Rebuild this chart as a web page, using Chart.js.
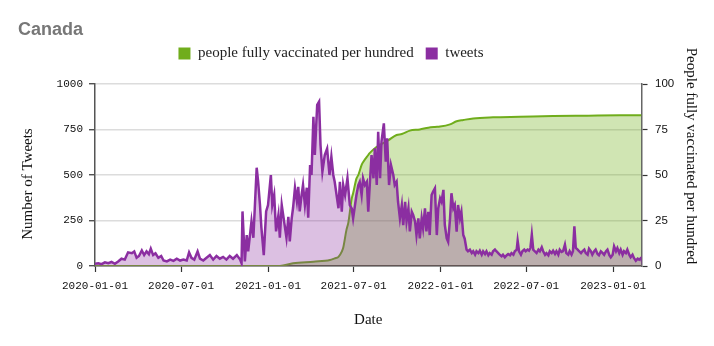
<!DOCTYPE html>
<html>
<head>
<meta charset="utf-8">
<script src="https://cdn.jsdelivr.net/npm/chart.js@4.4.1/dist/chart.umd.min.js"></script>
<style>
html,body{margin:0;padding:0;background:#fff;}
#wrap{width:714px;height:346px;position:relative;}
</style>
</head>
<body>
<div id="wrap"><canvas id="c" width="714" height="346"></canvas></div>
<script>
// ---- data (x values are days since 2020-01-01) ----
const startDate = '2020-01-01';
const endDay = 1156;
const tickDates = ['2020-01-01','2020-07-01','2021-01-01','2021-07-01','2022-01-01','2022-07-01','2023-01-01'];

const tweetDays = [
  0,7,14,21,28,35,42,49,56,63,70,78,83,88,93,99,104,109,114,118,123,128,134,140,145,152,159,166,173,180,
  187,194,199,204,210,217,222,229,236,243,250,257,264,271,278,285,292,300,307,310,
  312,317,321,324,331,335,338,342,345,349,352,357,362,366,372,375,379,383,388,391,395,400,405,409,412,416,
  419,423,427,430,433,437,440,444,448,451,455,458,462,465,470,474,477,481,486,491,496,500,504,
  507,511,515,518,522,525,529,534,539,543,546,550,553,557,560,564,567,571,575,578,582,585,589,592,596,599,
  603,606,611,615,618,622,626,631,634,638,641,645,649,652,656,659,663,666,670,673,677,680,684,687,691,694,
  698,701,705,708,712,715,719,
  723,726,730,733,737,740,744,747,751,754,758,761,765,768,772,775,779,
  782,786,789,793,797,800,804,807,811,814,818,821,825,828,832,835,839,842,846,849,853,856,860,863,867,871,
  874,878,881,885,888,892,894,897,901,904,908,911,915,918,921,924,927,930,934,938,941,945,948,952,955,959,
  962,966,969,973,976,980,983,987,990,994,997,1001,1004,1008,1011,1014,1017,1021,1024,1028,1031,1035,1038,
  1042,1045,1049,1052,1056,1059,1063,1066,1070,1074,1077,1081,1084,1088,1091,1095,1098,1102,1105,1109,1112,
  1116,1119,1123,1126,1130,1133,1137,1140,1144,1148,1151,1155,1156
];
const tweetCounts = [
  12,15,10,20,15,22,12,25,40,35,75,70,80,45,55,85,60,80,65,95,60,70,45,55,30,25,35,28,40,30,
  35,30,75,45,35,80,40,30,45,60,35,55,40,50,35,55,40,60,35,15,
  300,25,170,80,245,155,320,540,465,335,210,60,300,335,500,335,390,190,280,155,335,245,155,270,135,260,
  320,430,355,435,300,390,445,335,430,265,555,500,820,610,885,903,665,518,610,645,500,600,500,
  463,390,317,463,298,445,390,482,335,317,262,335,390,445,463,390,482,445,463,298,482,610,482,647,445,738,
  482,683,784,573,701,445,555,500,445,463,353,262,335,225,353,245,317,190,298,280,245,170,262,152,262,208,
  317,190,298,170,390,408,427,
  170,317,372,353,418,225,152,133,262,400,317,335,188,335,262,298,170,
  150,90,81,90,71,81,62,81,71,84,62,81,66,81,59,71,62,81,90,81,71,62,53,62,48,59,
  66,59,71,62,81,90,139,81,62,81,90,81,90,84,99,172,90,81,71,90,81,103,81,62,71,59,
  81,71,84,66,81,62,90,77,81,117,71,62,81,62,81,218,99,90,81,71,81,90,71,
  62,95,81,62,81,90,66,59,81,71,62,81,90,59,48,62,108,81,99,71,90,
  62,81,71,90,62,48,62,44,29,40,35,44,35
];

const vaccDays = [0,391,419,462,497,507,515,522,525,532,536,543,546,553,557,564,567,578,581,596,599,620,638,649,666,687,705,719,730,751,765,779,800,842,899,969,1040,1110,1156];
const vaccPct  = [0,0,1.5,2.4,3.3,4.2,5,7.9,10,20,24,37,40,48,50,55.5,57,61,62,65.5,66,69,72,72.5,74.4,75,76,76.4,76.6,77.8,79.5,80.2,81.1,81.7,82,82.4,82.6,82.8,82.8];

const tweetTicks = [0,250,500,750,1000];
const vaccTicks = [0,25,50,75,100];

// ---- helpers ----
const DAY_MS = 86400000;
const DAY0 = Date.parse(startDate + 'T00:00:00Z');
const toDay = s => Math.round((Date.parse(s + 'T00:00:00Z') - DAY0) / DAY_MS);
const fmtDay = d => new Date(DAY0 + d * DAY_MS).toISOString().slice(0, 10);
const tickDays = tickDates.map(toDay);

const tweetPts = tweetDays.map((d, i) => ({x: d, y: tweetCounts[i]}));
const vaccPts = vaccDays.map((d, i) => ({x: d, y: vaccPct[i]}));

// layout tweaks: extra space under the legend, legend row shift, axis-title offsets
const titleOffsets = {y: 9, y2: -19};
const layoutTweak = {
  id: 'layoutTweak',
  beforeLayout(chart) {
    const lg = chart.legend;
    if (lg && !lg._tweaked) {
      lg._tweaked = true;
      const origFit = lg.fit;
      lg.fit = function () { origFit.apply(this, arguments); this.height += 13; };
    }
  },
  afterLayout(chart) {
    const lg = chart.legend;
    if (lg) { lg.left -= 30; lg.right -= 30; }
    Object.keys(titleOffsets).forEach(id => {
      const s = chart.scales[id];
      if (s && !s._titleTweaked) {
        s._titleTweaked = true;
        const orig = s.drawTitle;
        s.drawTitle = function () {
          const ctx = this.ctx;
          ctx.save();
          ctx.translate(0, titleOffsets[id]);
          orig.apply(this, arguments);
          ctx.restore();
        };
      }
    });
  }
};

const serif = 'Liberation Serif';

new Chart(document.getElementById('c'), {
  type: 'line',
  data: {
    datasets: [
      {
        label: 'tweets',
        data: tweetPts,
        yAxisID: 'y',
        borderColor: '#8b2ea1',
        backgroundColor: 'rgba(140,45,160,0.30)',
        fill: 'origin',
        borderWidth: 2.5,
        pointRadius: 0,
        tension: 0
      },
      {
        label: 'people fully vaccinated per hundred',
        data: vaccPts,
        yAxisID: 'y2',
        borderColor: '#70ad1c',
        backgroundColor: 'rgba(110,175,20,0.32)',
        fill: 'origin',
        borderWidth: 2,
        pointRadius: 0,
        cubicInterpolationMode: 'monotone'
      }
    ]
  },
  options: {
    responsive: false,
    animation: false,
    devicePixelRatio: 1,
    layout: {padding: {left: 18, right: 10, top: 0, bottom: 0}},
    plugins: {
      title: {
        display: true,
        text: 'Canada',
        align: 'start',
        color: '#777777',
        font: {family: 'Liberation Sans', size: 18, weight: 'bold', lineHeight: 1},
        padding: {top: 21, bottom: -5}
      },
      legend: {
        position: 'top',
        labels: {
          font: {family: serif, size: 15},
          color: '#222',
          boxWidth: 12,
          boxHeight: 12,
          padding: 12,
          sort: (a, b) => b.datasetIndex - a.datasetIndex,
          generateLabels: chart => Chart.defaults.plugins.legend.labels.generateLabels(chart)
            .map(l => Object.assign(l, {fillStyle: l.strokeStyle, lineWidth: 0}))
        }
      },
      tooltip: {enabled: false}
    },
    scales: {
      x: {
        type: 'linear',
        min: 0,
        max: endDay,
        afterBuildTicks: s => { s.ticks = tickDays.map(v => ({value: v})); },
        afterFit: s => { s.height = 80; s.paddingLeft = 0; s.paddingRight = 0; },
        ticks: {
          callback: v => fmtDay(v),
          font: {family: 'Liberation Mono', size: 11},
          color: '#111',
          maxRotation: 0,
          autoSkip: false,
          padding: 7
        },
        grid: {drawOnChartArea: false, drawTicks: true, tickLength: 6, tickColor: '#333', tickWidth: 1.2},
        border: {color: '#444', width: 1.5},
        title: {display: true, text: 'Date', color: '#111', font: {family: serif, size: 15}, padding: {top: 0, bottom: 17}}
      },
      y: {
        position: 'left',
        min: 0,
        max: 1000,
        afterBuildTicks: s => { s.ticks = tweetTicks.map(v => ({value: v})); },
        afterFit: s => { s.width = 77; },
        ticks: {callback: v => String(v), font: {family: 'Liberation Mono', size: 11}, color: '#111', padding: 6},
        grid: {color: '#dcdcdc', lineWidth: 1.5, tickColor: '#333', tickLength: 6, tickWidth: 1.2},
        border: {color: '#555', width: 1.5},
        title: {display: true, text: 'Number of Tweets', color: '#111', font: {family: serif, size: 15}, padding: {top: 1, bottom: 0}}
      },
      y2: {
        position: 'right',
        min: 0,
        max: 100,
        afterBuildTicks: s => { s.ticks = vaccTicks.map(v => ({value: v})); },
        afterFit: s => { s.width = 62.5; },
        ticks: {callback: v => String(v), font: {family: 'Liberation Sans', size: 11.5}, color: '#111', padding: 7.5},
        grid: {drawOnChartArea: false, tickColor: '#333', tickLength: 6, tickWidth: 1.2},
        border: {color: '#666', width: 1.5},
        title: {display: true, text: 'People fully vaccinated per hundred', color: '#111', font: {family: serif, size: 15}, padding: {top: 4, bottom: 0}}
      }
    }
  },
  plugins: [layoutTweak]
});
</script>
</body>
</html>
